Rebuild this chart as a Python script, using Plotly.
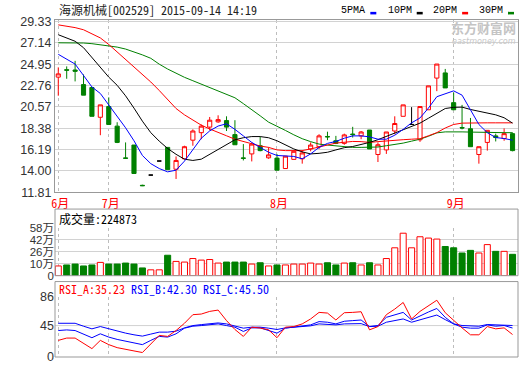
import plotly.graph_objects as go

# ---------------- data ----------------
title_text = '海源机械[002529] 2015-09-14 14:19'
month_labels = ['6月', '7月', '8月', '9月']
month_starts = [0, 6, 26, 47]          # bar index where each month begins

opens = [23.62, 24.38, 24.35, 22.85, 22.55, 19.50, 20.60, 18.59, 15.33, 16.65,
         12.52, 13.57, 15.01, 16.41, 14.17, 15.24, 17.15, 17.92, 18.49, 19.03,
         19.16, 17.72, 15.33, 15.74, 16.58, 15.34, 15.31, 14.24, 15.18, 15.24,
         16.25, 16.48, 17.53, 17.09, 16.82, 17.78, 17.59, 18.19, 15.68, 16.15,
         18.09, 19.60, 18.76, 17.19, 20.27, 23.52, 24.05, 21.00, 18.45, 18.32,
         15.68, 16.92, 17.59, 17.32, 17.82]
highs = [24.62, 24.72, 25.29, 23.89, 22.55, 20.77, 21.54, 18.99, 16.92, 16.65,
         12.58, 13.57, 15.01, 16.41, 15.48, 16.58, 18.26, 18.76, 19.53, 19.70,
         19.60, 19.20, 16.75, 16.92, 17.49, 16.41, 15.74, 15.51, 16.01, 16.14,
         16.92, 17.76, 18.02, 17.59, 17.82, 18.52, 18.09, 18.19, 16.92, 17.99,
         19.60, 20.77, 20.54, 20.60, 22.72, 24.96, 24.46, 22.04, 20.77, 19.43,
         16.48, 18.16, 17.82, 18.36, 17.92]
lows = [21.71, 23.45, 23.18, 21.77, 19.60, 17.66, 18.76, 16.85, 15.27, 13.73,
        12.44, 13.57, 15.01, 14.13, 13.17, 15.24, 16.58, 17.25, 18.16, 18.93,
        18.09, 16.68, 15.07, 14.97, 16.01, 15.24, 14.07, 14.24, 15.18, 14.74,
        16.01, 16.25, 17.15, 16.75, 16.68, 17.42, 17.25, 16.25, 14.91, 15.74,
        17.76, 19.60, 18.76, 16.98, 20.27, 22.18, 22.51, 20.27, 18.26, 16.48,
        14.74, 16.08, 17.02, 17.09, 16.01]
closes = [23.95, 24.33, 24.22, 21.77, 19.60, 20.77, 18.76, 16.92, 15.29, 13.73,
          12.48, 13.57, 15.01, 14.13, 15.07, 16.48, 18.09, 18.59, 19.20, 19.26,
          18.49, 16.68, 15.29, 16.75, 16.08, 15.64, 14.07, 15.51, 16.01, 15.84,
          16.65, 17.59, 17.49, 16.82, 17.69, 17.72, 17.99, 16.25, 16.68, 17.99,
          18.86, 20.77, 18.76, 20.60, 22.72, 24.96, 22.51, 20.27, 18.40, 16.48,
          16.48, 18.16, 17.42, 17.82, 16.08]

ma5 = [25.96, 25.46, 24.96, 23.79, 22.61, 21.94, 20.77, 19.60, 18.42, 17.09,
       15.58, 14.74, 14.24, 13.90, 14.07, 15.00, 16.20, 17.35, 18.10, 18.60,
       18.83, 18.26, 17.59, 16.92, 16.41, 15.91, 15.58, 15.51, 15.48, 15.24,
       15.74, 16.41, 16.82, 17.02, 17.35, 17.59, 17.59, 17.49, 17.25, 17.25,
       17.66, 18.26, 18.93, 19.43, 20.44, 21.61, 21.94, 22.21, 21.77, 20.27,
       18.76, 17.92, 17.42, 17.32, 17.15]
ma10 = [27.97, 27.60, 27.30, 26.64, 25.63, 24.60, 23.62, 22.78, 21.70, 20.44,
        19.10, 17.92, 17.05, 16.30, 15.70, 15.20, 15.07, 15.20, 15.70, 16.20,
        16.70, 17.19, 17.40, 17.52, 17.52, 17.40, 17.09, 16.70, 16.25, 15.95,
        15.74, 15.80, 15.91, 16.15, 16.38, 16.50, 16.70, 16.92, 17.20, 17.55,
        17.90, 18.20, 18.55, 18.90, 19.40, 19.93, 20.40, 20.52, 20.54, 20.30,
        20.10, 19.93, 19.75, 19.45, 18.90]
ma20 = [28.98, 28.85, 28.70, 28.48, 28.10, 27.64, 26.97, 26.20, 25.46, 24.70,
        23.90, 23.12, 22.25, 21.30, 20.40, 19.75, 19.20, 18.69, 18.30, 17.92,
        17.60, 17.25, 17.00, 16.75, 16.55, 16.41, 16.15, 16.08, 16.08, 16.08,
        16.25, 16.48, 16.65, 16.85, 16.95, 17.02, 17.00, 16.92, 17.00, 17.09,
        17.15, 17.20, 17.25, 17.30, 17.60, 17.92, 18.40, 18.76, 18.90, 18.93,
        18.93, 18.93, 18.93, 18.93, 18.93]
ma30 = [27.14, 27.14, 27.14, 27.12, 27.05, 26.95, 26.87, 26.70, 26.50, 26.23,
        25.90, 25.55, 24.95, 24.45, 24.00, 23.60, 23.25, 22.90, 22.57, 22.20,
        21.85, 21.50, 20.90, 20.30, 19.65, 19.00, 18.60, 18.15, 17.70, 17.30,
        17.00, 16.75, 16.65, 16.55, 16.45, 16.41, 16.41, 16.41, 16.45, 16.58,
        16.68, 16.85, 17.05, 17.25, 17.55, 17.90, 18.00, 18.02, 18.00, 17.98,
        17.95, 17.92, 17.92, 17.92, 17.92]

volume = [11.8, 13.0, 14.1, 11.8, 13.0, 16.1, 14.1, 14.1, 15.3, 14.1,
          9.4, 7.1, 7.1, 24.8, 17.3, 16.5, 20.8, 18.9, 19.6, 15.3,
          16.5, 16.5, 16.5, 14.1, 15.7, 11.8, 13.0, 13.0, 14.1, 14.1,
          15.3, 14.1, 15.7, 13.0, 15.3, 15.7, 13.0, 15.7, 13.0, 20.8,
          33.8, 51.5, 33.8, 47.2, 45.6, 44.4, 35.4, 33.8, 27.5, 30.7,
          27.5, 37.7, 29.5, 29.5, 25.9]
vol_last = 224873

rsi_a = [23.8, 27.1, 27.1, 19.1, 12.0, 23.8, 17.7, 13.4, 10.6, 8.7,
         6.4, 19.1, 30.9, 29.5, 37.9, 48.3, 60.6, 61.5, 65.3, 67.2,
         52.1, 39.4, 29.5, 42.7, 41.5, 38.9, 27.6, 42.7, 43.6, 47.4,
         54.5, 63.9, 62.9, 53.0, 63.4, 63.9, 64.8, 38.9, 43.6, 60.6,
         68.6, 78.1, 54.5, 65.3, 73.3, 81.3, 63.4, 52.1, 41.7, 31.8,
         31.8, 43.6, 40.3, 41.7, 32.2]
rsi_b = [37.9, 38.8, 37.9, 33.2, 27.6, 33.2, 28.5, 25.2, 22.4, 20.0,
         17.7, 23.8, 29.5, 28.5, 33.2, 41.3, 44.1, 45.0, 45.9, 47.4,
         45.0, 42.7, 36.6, 41.7, 41.7, 38.0, 34.2, 41.3, 42.7, 44.1,
         46.0, 50.7, 49.8, 47.4, 51.2, 52.1, 53.0, 43.6, 45.1, 56.8,
         60.6, 63.9, 53.0, 59.2, 64.4, 69.5, 56.8, 47.4, 42.7, 41.3,
         41.3, 46.0, 44.1, 45.1, 41.5]
rsi_c = [48.3, 48.3, 48.3, 44.1, 40.3, 43.6, 40.3, 37.0, 34.2, 31.8,
         29.9, 32.8, 35.6, 35.6, 37.0, 41.7, 45.0, 46.4, 47.4, 48.8,
         47.4, 44.1, 41.3, 42.7, 42.7, 41.3, 39.4, 41.7, 42.7, 43.6,
         44.6, 47.4, 46.5, 46.0, 47.4, 47.4, 47.8, 43.6, 44.1, 49.8,
         52.1, 54.5, 49.8, 53.0, 56.8, 60.1, 53.5, 47.4, 45.1, 44.1,
         44.1, 46.5, 46.0, 46.5, 45.1]
rsi_last = [35.23, 42.30, 45.50]

price_ticks = [11.81, 14.00, 16.19, 18.38, 20.57, 22.76, 24.95, 27.14, 29.33]
vol_tick_vals = [0, 14.5, 29, 43.5, 58]
vol_tick_text = ['0', '10万', '26万', '42万', '58万']
rsi_ticks = [0, 45, 86]
ma_names = ['5PMA', '10PM', '20PM', '30PM']
ma_colors = ['#0000ff', '#000000', '#ff0000', '#008000']

n = len(closes)
for arr in (opens, highs, lows, ma5, ma10, ma20, ma30, volume, rsi_a, rsi_b, rsi_c):
    assert len(arr) == n, len(arr)

# ---------------- geometry helpers (pixel -> paper) ----------------
W, H = 520, 365
ML, MR, MT, MB = 55, 1, 20, 1
PW, PH = W - ML - MR, H - MT - MB


def pxx(x):
    return (x - ML) / PW


def pxy(y):
    return (H - MB - y) / PH


MONO = 'Noto Sans Mono CJK SC, Noto Sans CJK SC, DejaVu Sans Mono, monospace'
SANS = 'Liberation Sans, Arial, Noto Sans CJK SC, sans-serif'
RED, GREEN, BLUE = '#ff0000', '#008000', '#0000ff'
GRID, BORDER = '#d2d2d2', '#999999'

idx = list(range(n))
up = [i for i in idx if closes[i] > opens[i]]
dn = [i for i in idx if closes[i] < opens[i]]
fl = [i for i in idx if closes[i] == opens[i]]


def candles(ii, line_col, fill_col):
    return go.Candlestick(
        x=ii, open=[opens[i] for i in ii], high=[highs[i] for i in ii],
        low=[lows[i] for i in ii], close=[closes[i] for i in ii],
        increasing=dict(line=dict(color=line_col, width=1), fillcolor=fill_col),
        decreasing=dict(line=dict(color=line_col, width=1), fillcolor=fill_col),
        whiskerwidth=0, showlegend=False, hoverinfo='skip',
        xaxis='x', yaxis='y')


fig = go.Figure()
fig.add_trace(candles(up, RED, '#ffffff'))
fig.add_trace(candles(dn, GREEN, GREEN))
fig.add_trace(candles(fl, '#000000', '#000000'))
for ys, col in zip([ma30, ma20, ma10, ma5], ma_colors[::-1]):
    fig.add_trace(go.Scatter(x=idx, y=ys, mode='lines', line=dict(color=col, width=1),
                             showlegend=False, hoverinfo='skip', xaxis='x', yaxis='y'))

vup = [i for i in idx if closes[i] >= opens[i]]
vdn = [i for i in idx if closes[i] < opens[i]]
fig.add_trace(go.Bar(x=vup, y=[volume[i] for i in vup], width=0.72,
                     marker=dict(color='#ffffff', line=dict(color=RED, width=1)),
                     showlegend=False, hoverinfo='skip', xaxis='x2', yaxis='y2'))
fig.add_trace(go.Bar(x=vdn, y=[volume[i] for i in vdn], width=0.72,
                     marker=dict(color=GREEN, line=dict(color=GREEN, width=1)),
                     showlegend=False, hoverinfo='skip', xaxis='x2', yaxis='y2'))

for ys, col in [(rsi_c, BLUE), (rsi_b, BLUE), (rsi_a, RED)]:
    fig.add_trace(go.Scatter(x=idx, y=ys, mode='lines', line=dict(color=col, width=1),
                             showlegend=False, hoverinfo='skip', xaxis='x3', yaxis='y3'))

xr = [-0.39, 54.65]
xcommon = dict(range=xr, tickvals=month_starts, showgrid=True, gridcolor='#bdbdbd',
               griddash='3px,3px', gridwidth=1, zeroline=False, ticks='', fixedrange=True)
tickfont = dict(family=SANS, size=12.5, color='#333333')

fig.update_layout(
    width=W, height=H, autosize=False,
    margin=dict(l=ML, r=MR, t=MT, b=MB, pad=0),
    paper_bgcolor='#ffffff', plot_bgcolor='#ffffff',
    boxgap=0.3, bargap=0, barmode='overlay',
    xaxis=dict(**xcommon, anchor='y', ticktext=month_labels,
               tickfont=dict(family=MONO, size=12, color=RED),
               ticklabelshift=2,
               showline=True, mirror=True, linecolor=BORDER, linewidth=1,
               rangeslider=dict(visible=False)),
    xaxis2=dict(**xcommon, anchor='y2', showticklabels=False),
    xaxis3=dict(**xcommon, anchor='y3', showticklabels=False),
    yaxis=dict(domain=[pxy(196), 1], range=[11.79, 29.48], tickvals=price_ticks,
               ticktext=['%.2f' % v for v in price_ticks], tickfont=tickfont,
               showgrid=True, gridcolor=GRID, zeroline=False, ticks='',
               showline=True, mirror=True, linecolor=BORDER, linewidth=1, fixedrange=True),
    yaxis2=dict(domain=[pxy(281), pxy(232)], range=[0, 58.2], tickvals=vol_tick_vals,
                ticktext=vol_tick_text, tickfont=dict(family=SANS, size=11.5, color='#333333'),
                showgrid=True, gridcolor=GRID, zeroline=False, ticks='', fixedrange=True),
    yaxis3=dict(domain=[0, pxy(302.7)], range=[0, 86], tickvals=rsi_ticks,
                ticktext=[str(v) for v in rsi_ticks], tickfont=tickfont, showgrid=False,
                zeroline=False, ticks='', fixedrange=True),
)

shapes = [
    # panel frames for volume and RSI (header strip included)
    dict(type='rect', xref='paper', yref='paper', x0=0, x1=1, y0=pxy(281), y1=pxy(213),
         line=dict(color=BORDER, width=1), fillcolor='rgba(0,0,0,0)', layer='above'),
    dict(type='rect', xref='paper', yref='paper', x0=0, x1=1, y0=pxy(364), y1=pxy(287),
         line=dict(color=BORDER, width=1), fillcolor='rgba(0,0,0,0)', layer='above'),
    # RSI middle grid line
    dict(type='line', xref='x3 domain', yref='y3', x0=0, x1=1, y0=rsi_ticks[1], y1=rsi_ticks[1],
         line=dict(color=GRID, width=1), layer='below'),
]

annotations = [
    dict(text=title_text, xref='paper', yref='paper', x=pxx(57), y=pxy(9.5),
         xanchor='left', yanchor='middle', showarrow=False,
         font=dict(family=MONO, size=12, color='#222222')),
    dict(text='成交量:%d' % vol_last, xref='paper', yref='paper', x=pxx(57), y=pxy(223),
         xanchor='left', yanchor='middle', showarrow=False,
         font=dict(family=MONO, size=12, color='#000000')),
    dict(text=("<span style='color:#ff0000'>RSI_A:%.2f</span> "
               "<span style='color:#0000ff'>RSI_B:%.2f</span> "
               "<span style='color:#0000ff'>RSI_C:%.2f</span>") % tuple(rsi_last),
         xref='paper', yref='paper', x=pxx(57), y=pxy(294.5),
         xanchor='left', yanchor='middle', showarrow=False,
         font=dict(family=MONO, size=12, color='#0000ff')),
    # watermark
    dict(text='<b>东方财富网</b>', xref='paper', yref='paper', x=pxx(519), y=pxy(28),
         xanchor='right', yanchor='middle', showarrow=False,
         font=dict(family='Noto Sans CJK SC', size=13, color='#c4c4c4')),
    dict(text='<i>eastmoney.com</i>', xref='paper', yref='paper', x=pxx(519), y=pxy(42),
         xanchor='right', yanchor='middle', showarrow=False,
         font=dict(family='DejaVu Sans', size=8, color='#c8c8c8')),
]

# MA legend: text then a short coloured dash
legend_text_x = [340, 386.5, 432, 478]
for name, col, lx in zip(ma_names, ma_colors, legend_text_x):
    annotations.append(dict(text=name, xref='paper', yref='paper', x=pxx(lx), y=pxy(10),
                            xanchor='left', yanchor='middle', showarrow=False,
                            font=dict(family='Liberation Mono', size=10, color='#000000')))
    shapes.append(dict(type='rect', xref='paper', yref='paper',
                       x0=pxx(lx + 31), x1=pxx(lx + 37), y0=pxy(14.3), y1=pxy(11.7),
                       line=dict(width=0), fillcolor=col))

fig.update_layout(shapes=shapes, annotations=annotations)
fig.write_html('out.html', config={'displayModeBar': False, 'staticPlot': True},
               post_script="document.body.style.margin='0';document.body.style.overflow='hidden';")
